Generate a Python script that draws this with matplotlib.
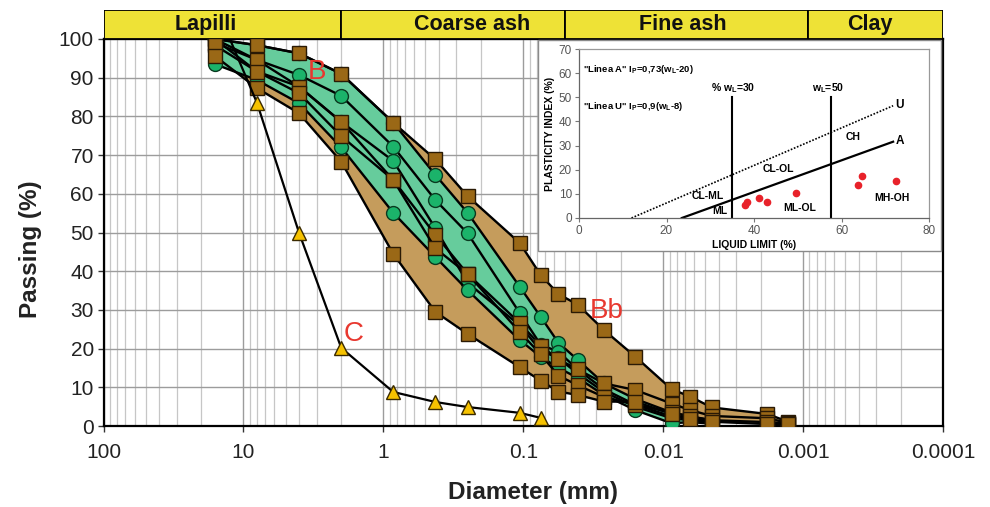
import numpy as np
import matplotlib
matplotlib.use("Agg")
import matplotlib.pyplot as plt
from matplotlib.patches import Rectangle
from matplotlib.ticker import FixedLocator, FixedFormatter, LogLocator, NullFormatter

plt.rcParams['font.family'] = ['Liberation Sans', 'DejaVu Sans']
plt.rcParams['mathtext.fontset'] = 'custom'
plt.rcParams['mathtext.rm'] = 'Liberation Sans'
plt.rcParams['mathtext.bf'] = 'Liberation Sans:bold'
plt.rcParams['mathtext.default'] = 'bf'

# ---------------- data ----------------
SIEVE_D = [16, 8, 4, 2, 0.85, 0.425, 0.25, 0.106, 0.075]
HYDRO_D = [0.056, 0.0406, 0.0265, 0.0158, 0.0087, 0.0064, 0.0045, 0.0018, 0.00128]

# Facies B (green circles): sieve values + hydrometer values
B1_SIEVE = [100, 98.4, 96.3, 91.0, 78.4, 64.9, 55.1, 36.0, 28.2]
B1_HYDRO = [21.5, 17.0, 11.0, 7.0, 3.5, 2.4, 1.5]
B2_SIEVE = [100, 94.6, 90.7, 85.3, 72.2, 58.4, 49.8, 29.2, 21.0]
B2_HYDRO = [19.2, 14.5, 9.5, 5.5, 2.5, 1.8, 1.2]
B3_SIEVE = [100, 91.6, 87.7, 78.6, 68.5, 51.1, 37.0, 26.0, 19.5]
B3_HYDRO = [17.5, 13.5, 8.8, 5.0, 2.0, 1.5, 1.0]
B4_SIEVE = [93.5, 89.4, 83.4, 72.0, 55.1, 43.7, 35.1, 22.2, 17.9]
B4_HYDRO = [15.0, 12.4, 8.0, 4.1, 0.7, 1.0, 0.6]

# Facies Bb (brown squares)
BB1_SIEVE = [100, 98.4, 96.3, 91.0, 78.4, 68.9, 59.4, 47.3, 39.0]
BB1_HYDRO = [34.1, 31.3, 24.8, 17.9, 9.5, 7.6, 4.8, 3.1, 1.1]
BB2_SIEVE = [99.0, 94.6, 87.7, 78.6, 63.6, 49.4, 39.3, 26.6, 20.7]
BB2_HYDRO = [17.2, 14.6, 11.0, 9.3, 5.8, 4.1, 2.6, 2.0, 0.8]
BB3_SIEVE = [98.4, 91.6, 86.0, 74.9, 63.6, 45.9, 39.3, 24.3, 18.5]
BB3_HYDRO = [13.0, 10.5, 7.5, 5.5, 3.5, 2.5, 1.5, 1.0, 0.6]
BB4_SIEVE = [95.6, 87.3, 80.8, 68.3, 44.5, 29.5, 23.8, 15.2, 11.7]
BB4_HYDRO = [8.9, 8.0, 6.3, 6.3, 3.1, 1.7, 1.1, 0.5, 0.5]

# Facies C (yellow triangles)
C_D = [12.5, 8, 4, 2, 0.85, 0.425, 0.25, 0.106, 0.075]
C_VAL = [100, 83.5, 49.9, 20.2, 8.8, 6.2, 4.9, 3.4, 2.1]

X_TICKS = [100, 10, 1, 0.1, 0.01, 0.001, 0.0001]
X_TICK_LABELS = ['100', '10', '1', '0.1', '0.01', '0.001', '0.0001']
Y_TICKS = [0, 10, 20, 30, 40, 50, 60, 70, 80, 90, 100]

# grain-size classes (header band)
CLASS_NAMES = ['Lapilli', 'Coarse ash', 'Fine ash', 'Clay']
CLASS_EDGES = [100, 2, 0.05, 0.00092, 0.0001]
CLASS_LABEL_X = [18.5, 0.232, 0.0072, 0.000332]

# group labels
GROUP_LABELS = ['B', 'C', 'Bb']
GROUP_LABEL_X = [2.98, 1.64, 0.0252]
GROUP_LABEL_Y = [91.5, 23.8, 29.7]

# inset (plasticity chart)
PT_LL = [37.9, 38.3, 41.2, 42.9, 49.6, 63.8, 64.6, 72.4]
PT_PI = [5.4, 6.5, 8.4, 6.7, 10.5, 13.7, 17.4, 15.5]
U_LINE_X = [12.0, 71.8]
U_LINE_Y = [0.0, 46.5]
A_LINE_X = [23.5, 71.8]
A_LINE_Y = [0.0, 31.6]
WL_LINES_X = [35.0, 57.5]
WL_LINES_TOP = 50.0
ZONE_NAMES = ['U', 'A', 'CH', 'CL-OL', 'CL-ML', 'ML', 'ML-OL', 'MH-OH']
ZONE_X = [73.3, 73.3, 62.6, 45.5, 29.5, 32.2, 50.5, 71.6]
ZONE_Y = [47.0, 32.0, 33.7, 20.3, 9.2, 2.9, 4.0, 8.4]

# ---------------- style ----------------
W, H = 990, 507
TAN = '#c59c5c'
MINT = '#66cc9c'
GREEN_MK = '#1bb36a'
BROWN_MK = '#9a6816'
YELLOW_MK = '#f6c200'
HEADER_Y = '#eee236'
RED = '#e8382f'


def px(x0, y0, x1, y1):
    """figure rect from pixel box"""
    return [x0 / W, 1 - y1 / H, (x1 - x0) / W, (y1 - y0) / H]


fig = plt.figure(figsize=(W / 100, H / 100), dpi=100)
ax = fig.add_axes(px(103.5, 39, 943, 426))
ax.set_xscale('log')
ax.set_xlim(100, 0.0001)
ax.set_ylim(0, 100)


def curve(sieve, hydro):
    d = list(SIEVE_D) + list(HYDRO_D[:len(hydro)])
    v = list(sieve) + list(hydro)
    return np.array(d), np.array(v)


green = [curve(B1_SIEVE, B1_HYDRO), curve(B2_SIEVE, B2_HYDRO),
         curve(B3_SIEVE, B3_HYDRO), curve(B4_SIEVE, B4_HYDRO)]
brown = [curve(BB1_SIEVE, BB1_HYDRO), curve(BB2_SIEVE, BB2_HYDRO),
         curve(BB3_SIEVE, BB3_HYDRO), curve(BB4_SIEVE, BB4_HYDRO)]

# envelopes
up, lo = brown[0], brown[-1]
ax.fill(np.concatenate([up[0], lo[0][::-1]]), np.concatenate([up[1], lo[1][::-1]]),
        facecolor=TAN, edgecolor='none', zorder=2)
up, lo = green[0], green[-1]
ax.fill(np.concatenate([up[0], lo[0][::-1]]), np.concatenate([up[1], lo[1][::-1]]),
        facecolor=MINT, edgecolor='none', zorder=3)

for d, v in green:
    ax.plot(d, v, color='black', lw=1.7, marker='o', ms=10, mfc=GREEN_MK,
            mec='#0a3a20', mew=1.0, zorder=4)
for d, v in brown:
    ax.plot(d, v, color='black', lw=1.7, marker='s', ms=10.5, mfc=BROWN_MK,
            mec='#2a1a05', mew=1.0, zorder=5)
ax.plot(C_D, C_VAL, color='black', lw=1.6, marker='^', ms=10, mfc=YELLOW_MK,
        mec='#3a2a00', mew=1.0, zorder=6, markevery=list(range(1, len(C_D))))

for t, x, y in zip(GROUP_LABELS, GROUP_LABEL_X, GROUP_LABEL_Y):
    ax.text(x, y, t, color=RED, fontsize=20, ha='center', va='center', zorder=7)

ax.xaxis.set_major_locator(FixedLocator(X_TICKS))
ax.xaxis.set_major_formatter(FixedFormatter(X_TICK_LABELS))
ax.xaxis.set_minor_locator(LogLocator(base=10, subs=np.arange(2, 10)))
ax.xaxis.set_minor_formatter(NullFormatter())
ax.set_yticks(Y_TICKS)
ax.tick_params(axis='both', which='major', labelsize=15, length=4, width=1,
               color='#333333', labelcolor='#222222')
ax.tick_params(axis='x', which='major', pad=8)
ax.tick_params(axis='y', which='major', pad=3)
ax.tick_params(axis='x', which='minor', length=0)
ax.grid(True, which='major', axis='both', color='#9c9c9c', lw=1.0, zorder=0)
ax.grid(True, which='minor', axis='x', color='#c6c6c6', lw=0.9, zorder=0)
ax.set_axisbelow(True)
for s in ax.spines.values():
    s.set_linewidth(1.6)
    s.set_color('black')

fig.text(533 / W, 1 - 492 / H, 'Diameter (mm)', fontsize=17.5, fontweight='bold',
         ha='center', va='center', color='#222222')
fig.text(30 / W, 1 - 249 / H, 'Passing (%)', fontsize=17.5, fontweight='bold',
         ha='center', va='center', rotation=90, color='#222222')

# header band
axh = fig.add_axes(px(103.5, 10, 943, 39))
axh.set_xscale('log')
axh.set_xlim(100, 0.0001)
axh.set_ylim(0, 1)
axh.axis('off')
for i, name in enumerate(CLASS_NAMES):
    axh.axvspan(CLASS_EDGES[i], CLASS_EDGES[i + 1], ymin=0, ymax=1,
                facecolor=HEADER_Y, edgecolor='black', lw=1.3)
    axh.text(CLASS_LABEL_X[i], 0.5, name, fontsize=15.5, fontweight='bold',
             ha='center', va='center', color='#111111')

# inset outer box
fig.patches.append(Rectangle((538 / W, 1 - 251 / H), (941 - 538) / W, (251 - 40) / H,
                             transform=fig.transFigure, facecolor='white',
                             edgecolor='#8a8a8a', lw=1.0, zorder=1))
axi = fig.add_axes(px(579, 49, 929, 218))
axi.set_zorder(2)
axi.set_xlim(0, 80)
axi.set_ylim(0, 70)
axi.set_xticks([0, 20, 40, 60, 80])
axi.set_yticks([0, 10, 20, 30, 40, 50, 60, 70])
axi.tick_params(labelsize=8.5, labelcolor='#555555', length=3, color='#777777', pad=2)
for k, s in axi.spines.items():
    s.set_color('#999999' if k in ('top', 'right') else '#666666')
    s.set_linewidth(0.9)
axi.set_xlabel('LIQUID LIMIT (%)', fontsize=7.5, fontweight='bold', labelpad=2)
axi.set_ylabel('PLASTICITY INDEX (%)', fontsize=7.5, fontweight='bold', labelpad=3)

axi.plot(U_LINE_X, U_LINE_Y, color='black', lw=1.2, ls=(0, (1, 1)))
axi.plot(A_LINE_X, A_LINE_Y, color='black', lw=1.6)
for x in WL_LINES_X:
    axi.plot([x, x], [0, WL_LINES_TOP], color='black', lw=1.5)
axi.plot(PT_LL, PT_PI, ls='none', marker='o', ms=4.5, color='#e8222a')

axi.text(35.3, 53.8, r'% w$_\mathbf{L}$=30', fontsize=7.5, fontweight='bold',
         ha='center', va='center')
axi.text(57.0, 53.8, r'w$_\mathbf{L}$=50', fontsize=7.5, fontweight='bold',
         ha='center', va='center')
axi.text(1.0, 61.5, r'"Linea A" I$_\mathbf{P}$=0,73(w$_\mathbf{L}$-20)', fontsize=6.8,
         fontweight='bold', ha='left', va='center')
axi.text(1.0, 46.0, r'"Linea U" I$_\mathbf{P}$=0,9(w$_\mathbf{L}$-8)', fontsize=6.8,
         fontweight='bold', ha='left', va='center')
for t, x, y in zip(ZONE_NAMES, ZONE_X, ZONE_Y):
    axi.text(x, y, t, fontsize=7.5 if len(t) > 1 else 8.5, fontweight='bold',
             ha='center', va='center')

fig.savefig('out.png', dpi=100)
